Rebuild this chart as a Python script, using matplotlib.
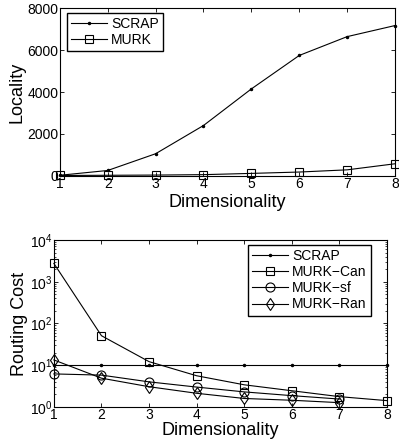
import matplotlib
matplotlib.use("Agg")
import numpy as np
from matplotlib import pyplot as plt

matplotlib.rc("font", family=["Liberation Sans", "DejaVu Sans"], size=9)
matplotlib.rc("mathtext", fontset="custom", rm="Liberation Sans")

# top panel: locality vs dimensionality
dims = [1, 2, 3, 4, 5, 6, 7, 8]
scrap_loc = [20, 250, 1050, 2400, 4150, 5750, 6650, 7180]
murk_loc = [10, 20, 30, 50, 110, 175, 280, 570]

# bottom panel: routing cost vs dimensionality
scrap_cost = [10, 10, 10, 10, 10, 10, 10, 10]
can_cost = [2750, 51, 12.2, 5.6, 3.4, 2.45, 1.77, 1.42]
sf_dims = [1, 2, 3, 4, 5, 6, 7]
sf_cost = [6.2, 5.8, 4.0, 3.0, 2.3, 1.87, 1.55]
ran_cost = [13.4, 4.9, 3.06, 2.13, 1.6, 1.45, 1.27]

fig = plt.figure(figsize=(3.99, 4.42), dpi=100)
ax1 = fig.add_axes([0.150, 0.6025, 0.840, 0.3785])
ax2 = fig.add_axes([0.135, 0.0792, 0.835, 0.3778])

lw = 0.8
ax1.plot(dims, scrap_loc, "k.-", lw=lw, ms=3, label="SCRAP", clip_on=False)
ax1.plot(dims, murk_loc, "ks-", lw=lw, ms=5.5, mfc="none", mew=0.8,
         label="MURK", clip_on=False)
ax1.set_xlim(1, 8)
ax1.set_ylim(0, 8000)
ax1.set_yticks([0, 2000, 4000, 6000, 8000])
ax1.set_xlabel("Dimensionality", fontsize=13, labelpad=2)
ax1.set_ylabel("Locality", fontsize=13, labelpad=1)
ax1.legend(loc="upper left", bbox_to_anchor=(0.02, 0.975), fancybox=False,
           edgecolor="k", framealpha=1, handlelength=2.6, fontsize=10,
           borderpad=0.3, labelspacing=0.15, handletextpad=0.3,
           borderaxespad=0)

ax2.plot(dims, scrap_cost, "k.-", lw=lw, ms=3, label="SCRAP", clip_on=False)
ax2.plot(dims, can_cost, "ks-", lw=lw, ms=5.5, mfc="none", mew=0.8,
         label="MURK\u2212Can", clip_on=False)
ax2.plot(sf_dims, sf_cost, "ko-", lw=lw, ms=6.5, mfc="none", mew=0.8,
         label="MURK\u2212sf", clip_on=False)
ax2.plot(sf_dims, ran_cost, "kd-", lw=lw, ms=6.5, mfc="none", mew=0.8,
         label="MURK\u2212Ran", clip_on=False)
ax2.set_yscale("log")
ax2.set_xlim(1, 8)
ax2.set_ylim(1, 1e4)
ax2.set_yticks([1, 10, 100, 1000, 10000])
ax2.set_xlabel("Dimensionality", fontsize=13, labelpad=0)
ax2.set_ylabel("Routing Cost", fontsize=13, labelpad=1)
ax2.legend(loc="upper right", bbox_to_anchor=(0.952, 0.97), fancybox=False,
           edgecolor="k", framealpha=1, handlelength=2.6, fontsize=10,
           borderpad=0.3, labelspacing=0.15, handletextpad=0.3,
           borderaxespad=0)

for ax in (ax1, ax2):
    ax.set_xticks(dims)
    ax.tick_params(direction="in", top=True, right=True, length=3,
                   width=0.6, labelsize=10, pad=1)
    ax.tick_params(which="minor", direction="in", right=True, length=1.5,
                   width=0.5)
    for s in ax.spines.values():
        s.set_linewidth(0.8)

fig.savefig("out.png", dpi=100)
